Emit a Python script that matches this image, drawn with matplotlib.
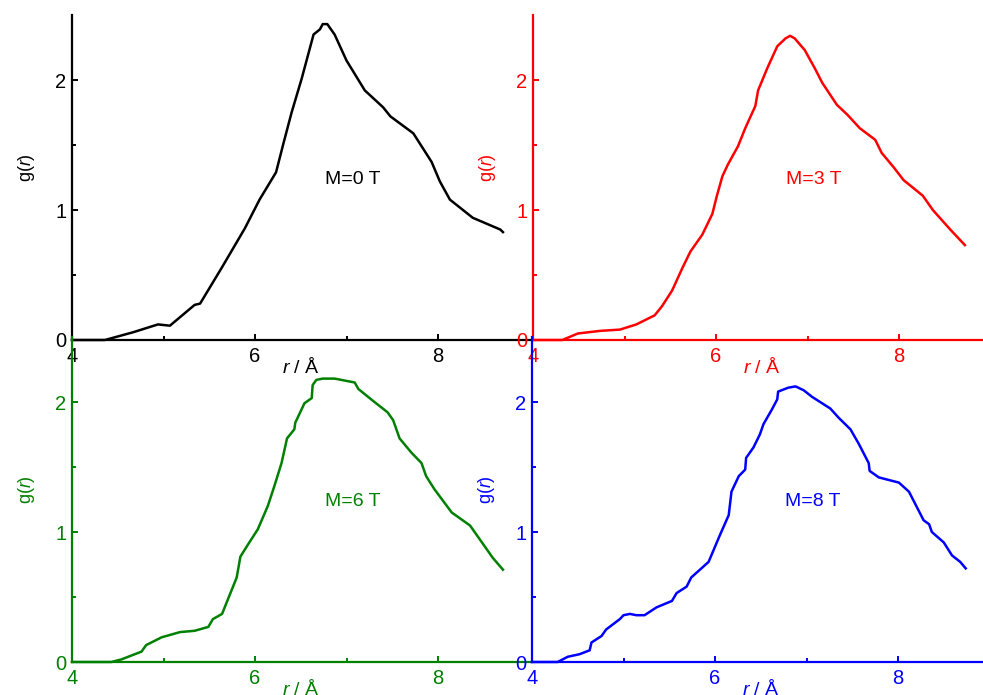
import matplotlib
matplotlib.use("Agg")
import matplotlib.pyplot as plt
from matplotlib.ticker import FixedLocator, NullFormatter

plt.rcParams['font.family'] = ['Liberation Sans', 'DejaVu Sans']
plt.rcParams['mathtext.fontset'] = 'custom'
plt.rcParams['mathtext.rm'] = 'Liberation Sans'
plt.rcParams['mathtext.it'] = 'Liberation Sans:italic'

# g(r), one pair of lists per field
r_0T = [4.0, 4.36, 4.67, 4.94, 5.07, 5.34, 5.40, 5.64, 5.89, 6.05, 6.23, 6.31, 6.40,
        6.51, 6.64, 6.71, 6.74, 6.79, 6.87, 7.00, 7.20, 7.40, 7.48, 7.73, 7.93,
        8.02, 8.13, 8.38, 8.68, 8.71]
g_0T = [0.0, 0.0, 0.06, 0.12, 0.11, 0.27, 0.28, 0.56, 0.86, 1.08, 1.29, 1.51, 1.75,
        2.01, 2.35, 2.39, 2.43, 2.43, 2.35, 2.15, 1.92, 1.79, 1.72, 1.59, 1.37,
        1.22, 1.08, 0.94, 0.85, 0.83]

r_3T = [4.0, 4.32, 4.49, 4.73, 4.95, 5.13, 5.33, 5.41, 5.52, 5.63, 5.72, 5.85, 5.96,
        6.01, 6.07, 6.13, 6.24, 6.32, 6.43, 6.46, 6.56, 6.67, 6.76, 6.81, 6.86,
        6.97, 7.08, 7.16, 7.32, 7.44, 7.57, 7.74, 7.81, 7.94, 8.05, 8.26, 8.37,
        8.56, 8.72]
g_3T = [0.0, 0.0, 0.05, 0.07, 0.08, 0.12, 0.19, 0.26, 0.38, 0.55, 0.68, 0.81, 0.97,
        1.11, 1.26, 1.35, 1.49, 1.63, 1.80, 1.92, 2.09, 2.26, 2.32, 2.34, 2.32,
        2.23, 2.09, 1.98, 1.81, 1.73, 1.63, 1.54, 1.44, 1.33, 1.23, 1.11, 1.00,
        0.85, 0.73]

r_6T = [4.0, 4.43, 4.54, 4.76, 4.81, 4.98, 5.18, 5.34, 5.49, 5.54, 5.64, 5.72, 5.80,
        5.84, 5.92, 6.03, 6.14, 6.21, 6.29, 6.35, 6.43, 6.44, 6.54, 6.62, 6.63,
        6.67, 6.74, 6.87, 7.09, 7.13, 7.27, 7.45, 7.51, 7.58, 7.71, 7.82, 7.87,
        7.96, 8.15, 8.35, 8.47, 8.60, 8.71]
g_6T = [0.0, 0.0, 0.02, 0.08, 0.13, 0.19, 0.23, 0.24, 0.27, 0.33, 0.37, 0.51, 0.65,
        0.81, 0.90, 1.02, 1.20, 1.35, 1.53, 1.72, 1.79, 1.84, 1.99, 2.03, 2.13,
        2.17, 2.18, 2.18, 2.15, 2.10, 2.02, 1.92, 1.86, 1.72, 1.61, 1.53, 1.43,
        1.33, 1.15, 1.05, 0.93, 0.80, 0.71]

r_8T = [4.0, 4.28, 4.39, 4.52, 4.63, 4.65, 4.76, 4.81, 4.96, 5.00, 5.07, 5.14, 5.23,
        5.36, 5.53, 5.58, 5.69, 5.74, 5.93, 6.05, 6.15, 6.18, 6.26, 6.33, 6.34,
        6.42, 6.49, 6.53, 6.62, 6.68, 6.69, 6.80, 6.88, 6.97, 7.06, 7.26, 7.35,
        7.48, 7.57, 7.68, 7.69, 7.79, 7.90, 8.01, 8.12, 8.28, 8.34, 8.37, 8.50,
        8.59, 8.68, 8.74]
g_8T = [0.0, 0.0, 0.04, 0.06, 0.09, 0.15, 0.20, 0.25, 0.33, 0.36, 0.37, 0.36, 0.36,
        0.42, 0.47, 0.53, 0.58, 0.65, 0.77, 0.97, 1.13, 1.31, 1.43, 1.48, 1.57,
        1.65, 1.75, 1.83, 1.94, 2.02, 2.08, 2.11, 2.12, 2.09, 2.04, 1.95, 1.88,
        1.79, 1.68, 1.53, 1.47, 1.42, 1.40, 1.38, 1.31, 1.09, 1.06, 1.00, 0.92,
        0.82, 0.77, 0.72]

fields = ['M=0 T', 'M=3 T', 'M=6 T', 'M=8 T']
colors = ['black', '#ff0000', '#008000', '#0000ff']
series = [(r_0T, g_0T), (r_3T, g_3T), (r_6T, g_6T), (r_8T, g_8T)]

W, H = 983, 695
fig = plt.figure(figsize=(W / 100, H / 100), dpi=100)

# axes origin in pixels (x of y-axis, y of x-axis from the top of the image)
origins = [(72, 340), (533, 340), (72, 662), (532, 662)]
ax_w, ax_h = 457.5, 325

for (x0, y0), name, c, (r, g) in zip(origins, fields, colors, series):
    ax = fig.add_axes([x0 / W, (H - y0) / H, ax_w / W, ax_h / H])
    ax.patch.set_alpha(0)
    ax.plot(r, g, color=c, lw=1.8, clip_on=False)
    ax.set_xlim(4, 9)
    ax.set_ylim(0, 2.5)
    for s in ['top', 'right']:
        ax.spines[s].set_visible(False)
    for s in ['left', 'bottom']:
        ax.spines[s].set_color(c)
        ax.spines[s].set_linewidth(1.6)
    ax.xaxis.set_major_locator(FixedLocator([4, 6, 8]))
    ax.xaxis.set_minor_locator(FixedLocator([5, 7]))
    ax.yaxis.set_major_locator(FixedLocator([0, 1, 2]))
    ax.yaxis.set_minor_locator(FixedLocator([0.5, 1.5]))
    ax.xaxis.set_minor_formatter(NullFormatter())
    ax.yaxis.set_minor_formatter(NullFormatter())
    ax.tick_params(which='both', direction='in', color=c, labelcolor=c,
                   width=1.4, labelsize=14.5)
    ax.tick_params(which='major', length=4.5)
    ax.tick_params(which='minor', length=3.2)
    ax.tick_params(axis='x', pad=5)
    ax.tick_params(axis='y', pad=4)

    ax.set_xlabel(r'$\mathit{r}$ / Å', color=c, fontsize=14, va='center')
    ax.xaxis.set_label_coords(0.5, -0.082)
    ax.set_ylabel(r'g($\mathit{r}$)', color=c, fontsize=13, va='center')
    ax.yaxis.set_label_coords(-0.1, 0.53)

    ax.text(7.07, 1.235, name, color=c, fontsize=14, ha='center', va='center')

fig.savefig('out.png', dpi=100)
